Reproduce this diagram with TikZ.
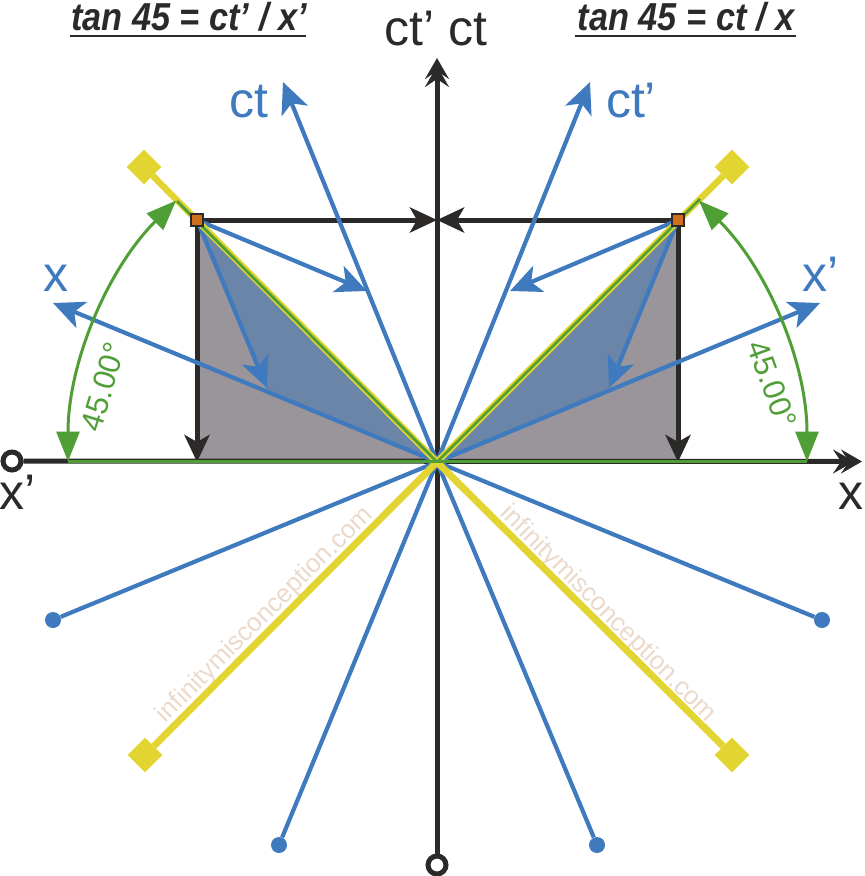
\documentclass[tikz,border=0pt]{standalone}
\usepackage{fontspec}
\setmainfont{Liberation Sans}
\usetikzlibrary{arrows.meta,shapes.geometric}
\definecolor{bluec}{HTML}{3F7ABF}
\definecolor{blackc}{HTML}{2B2A29}
\definecolor{yellowc}{HTML}{E2D532}
\definecolor{greenc}{HTML}{4F9E36}
\definecolor{greyfill}{HTML}{9A949B}
\definecolor{bluefill}{HTML}{6A85A8}
\definecolor{orangec}{HTML}{CF6F1C}
\definecolor{markc}{HTML}{EBD9CC}
\tikzset{
  blueln/.style={draw=bluec,line width=4.2pt},
  bluearr/.style={blueln,-{Stealth[length=31pt,width=28pt,inset=8pt]}},
  blackarr/.style={draw=blackc,line width=5pt,-{Stealth[length=27pt,width=25pt,inset=7pt]}},
  axisarr/.style={draw=blackc,line width=5pt,-{Stealth[length=21pt,width=24pt,inset=8pt,sep=-13pt]Stealth[length=21pt,width=24pt,inset=8pt]}},
  yellowln/.style={draw=yellowc,line width=7pt},
  yellowup/.style={draw=yellowc,line width=6.5pt},
  greenln/.style={draw=greenc,line width=2.8pt},
  greenarc/.style={draw=greenc,line width=3pt,{Stealth[length=30pt,width=23pt,inset=0pt]}-{Stealth[length=30pt,width=23pt,inset=0pt]}},
  diamondend/.style={diamond,fill=yellowc,minimum width=35pt,minimum height=35pt,inner sep=0pt},
  bluedot/.style={circle,fill=bluec,minimum size=16pt,inner sep=0pt},
  opendot/.style={circle,draw=blackc,line width=5pt,fill=white,minimum size=18pt,inner sep=0pt},
  orangesq/.style={rectangle,draw=blackc,line width=1.5pt,fill=orangec,minimum size=12pt,inner sep=0pt},
  axlabel/.style={font=\fontsize{50}{50}\selectfont,text=blackc,inner sep=0pt,anchor=base},
  bllabel/.style={font=\fontsize{50}{50}\selectfont,text=bluec,inner sep=0pt,anchor=base},
  eqn/.style={font=\fontsize{39}{39}\selectfont\bfseries\itshape,text=blackc,inner sep=0pt,anchor=base,xscale=.88},
  anglelab/.style={font=\fontsize{31}{31}\selectfont,text=greenc,inner sep=0pt},
  wmark/.style={font=\fontsize{25.8}{27}\selectfont,text=markc,inner sep=0pt},
}
\begin{document}
\begin{tikzpicture}[x=1pt,y=-1pt]
\useasboundingbox (0,0) rectangle (865,876);
\coordinate (O) at (437,462);
\coordinate (Lc) at (197,220);
\coordinate (Rc) at (678,220);
\coordinate (Lb) at (197,462);
\coordinate (Rb) at (678,462);
\coordinate (Lf) at (267,390);
\coordinate (Rf) at (609,390);
\coordinate (Top) at (437,220);
\coordinate (ctTip) at (283,82);
\coordinate (ctpTip) at (590,82);
\coordinate (xTip) at (53,303);
\coordinate (xpTip) at (820,303);
\coordinate (LA) at (367,291);
\coordinate (RA) at (510,291);
\coordinate (LB) at (267,388);
\coordinate (RB) at (609,388);
\coordinate (AxTop) at (437,58);
\coordinate (AxRight) at (862,461.5);
% fills
\fill[greyfill] (Lc) -- (Lb) -- (O) -- cycle;
\fill[greyfill] (Rc) -- (Rb) -- (O) -- cycle;
\fill[bluefill] (Lc) -- (Lf) -- (O) -- cycle;
\fill[bluefill] (Rc) -- (Rf) -- (O) -- cycle;
% watermark
\node[wmark,rotate=45] (wL) at (265,615) {infinitymisconception.com};
\node[wmark,rotate=-45] (wR) at (608,614) {infinitymisconception.com};
% end markers
\node[diamondend] (dUL) at (144,167) {};
\node[diamondend] (dUR) at (732,167) {};
\node[diamondend] (dLL) at (145,755) {};
\node[diamondend] (dLR) at (732,755) {};
\node[bluedot] (bLL) at (53,620) {};
\node[bluedot] (bLR) at (822,620) {};
\node[bluedot] (bBL) at (279,845) {};
\node[bluedot] (bBR) at (597,845) {};
\node[opendot] (oL) at (12,461) {};
\node[opendot] (oB) at (437,865) {};
% black axes
\draw[axisarr] (oB) -- (AxTop);
\draw[axisarr] (oL) -- (AxRight);
% black arrows
\draw[blackarr] (Lc) -- (Lb);
\draw[blackarr] (Rc) -- (Rb);
\draw[blackarr] (Lc) -- (Top);
\draw[blackarr] (Rc) -- (Top);
% blue lines
\draw[blueln] (O) -- (bLL);
\draw[blueln] (O) -- (bLR);
\draw[blueln] (O) -- (bBL);
\draw[blueln] (O) -- (bBR);
\draw[bluearr] (O) -- (ctTip);
\draw[bluearr] (O) -- (ctpTip);
\draw[bluearr] (O) -- (xTip);
\draw[bluearr] (O) -- (xpTip);
\draw[bluearr] (Lc) -- (LA);
\draw[bluearr] (Rc) -- (RA);
\draw[bluearr] (Lc) -- (LB);
\draw[bluearr] (Rc) -- (RB);
% yellow lines
\draw[yellowln] (O) -- (dLL);
\draw[yellowln] (O) -- (dLR);
\draw[yellowup] (O) -- (dUL);
\draw[yellowup] (O) -- (dUR);
% green
\coordinate (GL) at (68,461.5);
\coordinate (GR) at (807,461.5);
\coordinate (GUL) at (177,201);
\coordinate (GUR) at (700,199);
\draw[greenln] (GL) -- (GR);
\draw[greenln] (O) -- (GUL);
\draw[greenln] (O) -- (GUR);
\draw[greenarc] (GL) arc[start angle=180,end angle=135,radius=369pt];
\draw[greenarc] (GR) arc[start angle=0,end angle=45,radius=369pt];
% squares
\node[orangesq] (sL) at (Lc) {};
\node[orangesq] (sR) at (Rc) {};
% texts
\node[eqn] (eqL) at (189,30) {tan 45 = ct’ / x’};
\node[eqn] (eqR) at (686,30) {tan 45 = ct / x};
\draw[draw=blackc,line width=2pt] (70,36) -- (306,36);
\draw[draw=blackc,line width=2pt] (575,36) -- (796,36);
\node[axlabel] (ctt) at (436,45) {ct’ ct};
\node[bllabel] (lct) at (249,117) {ct};
\node[bllabel] (lctp) at (631,117) {ct’};
\node[bllabel] (lx) at (56,291) {x};
\node[bllabel] (lxp) at (821,291) {x’};
\node[axlabel] (lxpb) at (18,509) {x’};
\node[axlabel] (lxb) at (851,509) {x};
\node[anglelab,rotate=73] (aL) at (103,387) {45.00°};
\node[anglelab,rotate=-70] (aR) at (772,384) {45.00°};
\end{tikzpicture}
\end{document}
